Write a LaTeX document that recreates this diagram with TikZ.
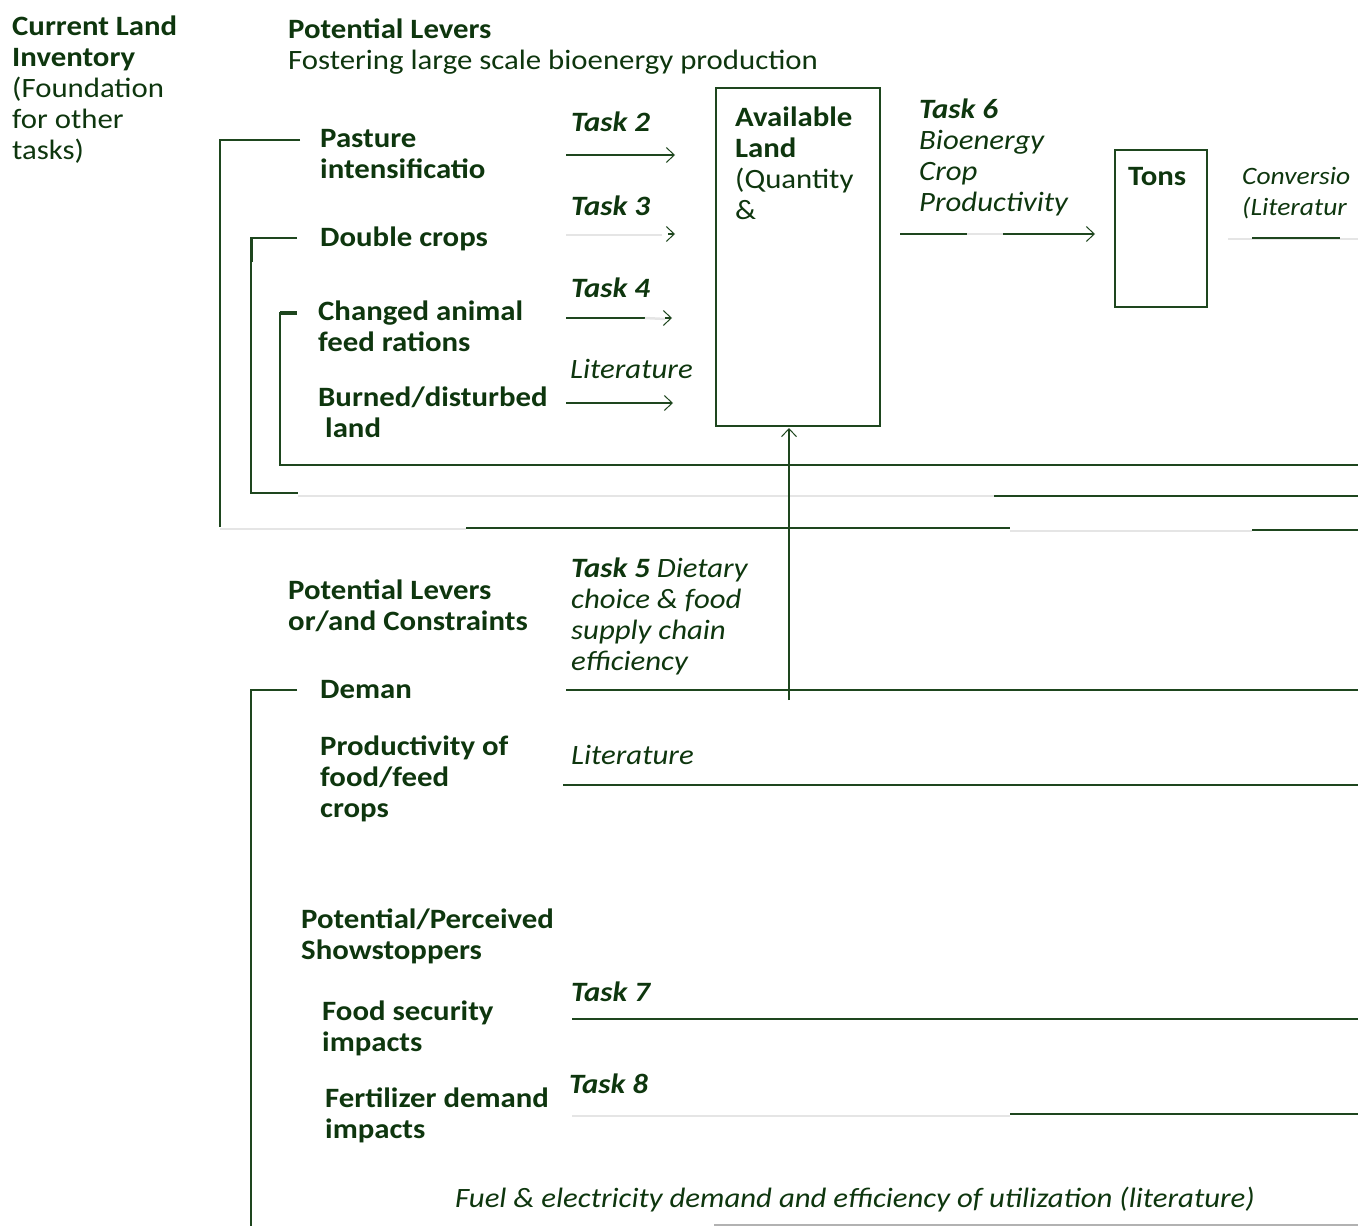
\documentclass[tikz,border=0pt]{standalone}
\usepackage{fontspec}
\setmainfont{Carlito}[FakeStretch=1.1]
\usetikzlibrary{arrows.meta}

\definecolor{leafgreen}{RGB}{14,54,14}
\definecolor{linegreen}{RGB}{30,70,30}

\tikzset{
  lbl/.style={anchor=base west, inner sep=0pt, align=left, text=leafgreen,
    font=\fontsize{28}{31}\selectfont},
  hdr/.style={lbl, font=\fontsize{28}{31}\selectfont\bfseries},
  tsk/.style={lbl, font=\fontsize{28}{31}\selectfont\itshape},
  link/.style={draw=linegreen, line width=1.6pt},
  faint/.style={draw=black!10, line width=2.5pt},
  feed/.style={link, -{Straight Barb[length=8pt,width=15pt,line width=1pt]}},
  landbox/.style={draw=linegreen, line width=1.6pt, inner sep=0pt, anchor=north west},
}

\begin{document}
\begin{tikzpicture}[x=1pt,y=-1pt]
    \useasboundingbox (0,0) rectangle (1358,1226);

    % Define coordinates
    \coordinate (t2a) at (566,155);  \coordinate (t2b) at (675,155);
    \coordinate (t3a) at (566,235);  \coordinate (t3b) at (662,235);
    \coordinate (t3h) at (675,234);
    \coordinate (t4a) at (566,318);  \coordinate (t4b) at (645,318);
    \coordinate (t4h) at (672,318);
    \coordinate (lta) at (566,403);  \coordinate (ltb) at (673,403);
    \coordinate (t6a) at (900,234);  \coordinate (t6b) at (967,234);
    \coordinate (t6c) at (1003,234); \coordinate (t6d) at (1095,234);
    \coordinate (cva) at (1252,238); \coordinate (cvb) at (1340,238);
    \coordinate (up)  at (789,700);  \coordinate (upend) at (789,428);

    % Boxes
    \node[landbox, minimum width=164pt, minimum height=338pt] (avail) at (715,87) {};
    \node[landbox, minimum width=92pt, minimum height=157pt] (tons) at (1114,149) {};

    % Brackets on the left
    \draw[link] (300,140) -- (220,140) -- (220,527);
    \draw[faint] (220,529) -- (466,529);
    \draw[link] (466,528) -- (1010,528);
    \draw[faint] (1010,531) -- (1252,531);
    \draw[link] (1252,530) -- (1358,530);

    \draw[link] (297,238) -- (251,238) -- (251,493) -- (298,493);
    \draw[link, line width=3pt] (251,238) -- (251,262);
    \draw[faint] (298,496) -- (994,496);
    \draw[link] (994,496) -- (1358,496);

    \draw[link] (280,312) -- (280,465) -- (1358,465);
    \draw[link, line width=4pt] (280,313) -- (297,313);

    \draw[link] (297,690) -- (251,690) -- (251,1226);

    % Arrows into available land
    \draw[feed] (t2a) -- (t2b);
    \draw[faint] (t3a) -- (t3b);
    \draw[feed] (668,234) -- (t3h);
    \draw[link] (t4a) -- (t4b);
    \draw[faint] (t4b) -- (665,319);
    \draw[feed] (665,318) -- (t4h);
    \draw[feed] (lta) -- (ltb);
    \draw[feed] (up) -- (upend);

    % Arrow to tons and conversion
    \draw[link] (t6a) -- (t6b);
    \draw[faint] (t6b) -- (t6c);
    \draw[feed] (t6c) -- (t6d);
    \draw[faint] (1228,239) -- (1358,239);
    \draw[link] (cva) -- (cvb);

    % Lower lines
    \draw[link] (566,690) -- (1358,690);
    \draw[link] (563,785) -- (1358,785);
    \draw[link] (572,1019) -- (1358,1019);
    \draw[faint] (572,1116) -- (1010,1116);
    \draw[link] (1010,1114) -- (1358,1114);
    \draw[draw=black!30, line width=1.5pt] (714,1225) -- (1358,1225);

    % Headings (multi-line nodes sit on their last baseline)
    \node[lbl] (inventory) at (12,159) {\textbf{Current Land}\\\textbf{Inventory}\\(Foundation\\for other\\tasks)};
    \node[lbl] (levers) at (288,69) {\textbf{Potential Levers}\\Fostering large scale bioenergy production};
    \node[hdr] (constraints) at (288,630) {Potential Levers\\or/and Constraints};
    \node[hdr] (stoppers) at (301,959) {Potential/Perceived\\Showstoppers};

    % Lever items
    \node[hdr] (pasture) at (320,178) {Pasture\\intensificatio};
    \node[hdr] (double) at (320,246) {Double crops};
    \node[hdr] (animal) at (318,351) {Changed animal\\feed rations};
    \node[hdr] (burned) at (318,437) {Burned/disturbed\\\hspace{7pt}land};
    \node[hdr] (deman) at (320,698) {Deman};
    \node[hdr] (foodprod) at (320,817) {Productivity of\\food/feed\\crops};
    \node[hdr] (security) at (322,1051) {Food security\\impacts};
    \node[hdr] (fertilizer) at (325,1138) {Fertilizer demand\\impacts};

    % Task labels
    \node[tsk] (task2) at (571,131) {\textbf{Task 2}};
    \node[tsk] (task3) at (571,215) {\textbf{Task 3}};
    \node[tsk] (task4) at (571,297) {\textbf{Task 4}};
    \node[tsk] (lit1) at (570,378) {Literature};
    \node[tsk] (task5) at (571,670) {\textbf{Task 5} Dietary\\choice \& food\\supply chain\\efficiency};
    \node[tsk] (lit2) at (571,764) {Literature};
    \node[tsk] (task6) at (919,211) {\textbf{Task 6}\\Bioenergy\\Crop\\Productivity};
    \node[tsk, font=\fontsize{25}{31}\selectfont\itshape] (conv) at (1242,215) {Conversio\\(Literatur};
    \node[tsk] (task7) at (571,1001) {\textbf{Task 7}};
    \node[tsk] (task8) at (569,1093) {\textbf{Task 8}};
    \node[tsk] (fuel) at (455,1207) {Fuel \& electricity demand and efficiency of utilization (literature)};

    % Box texts
    \node[lbl] (availtxt) at (735,219) {\textbf{Available}\\\textbf{Land}\\(Quantity\\\&};
    \node[hdr] (tonstxt) at (1128,185) {Tons};

\end{tikzpicture}
\end{document}
